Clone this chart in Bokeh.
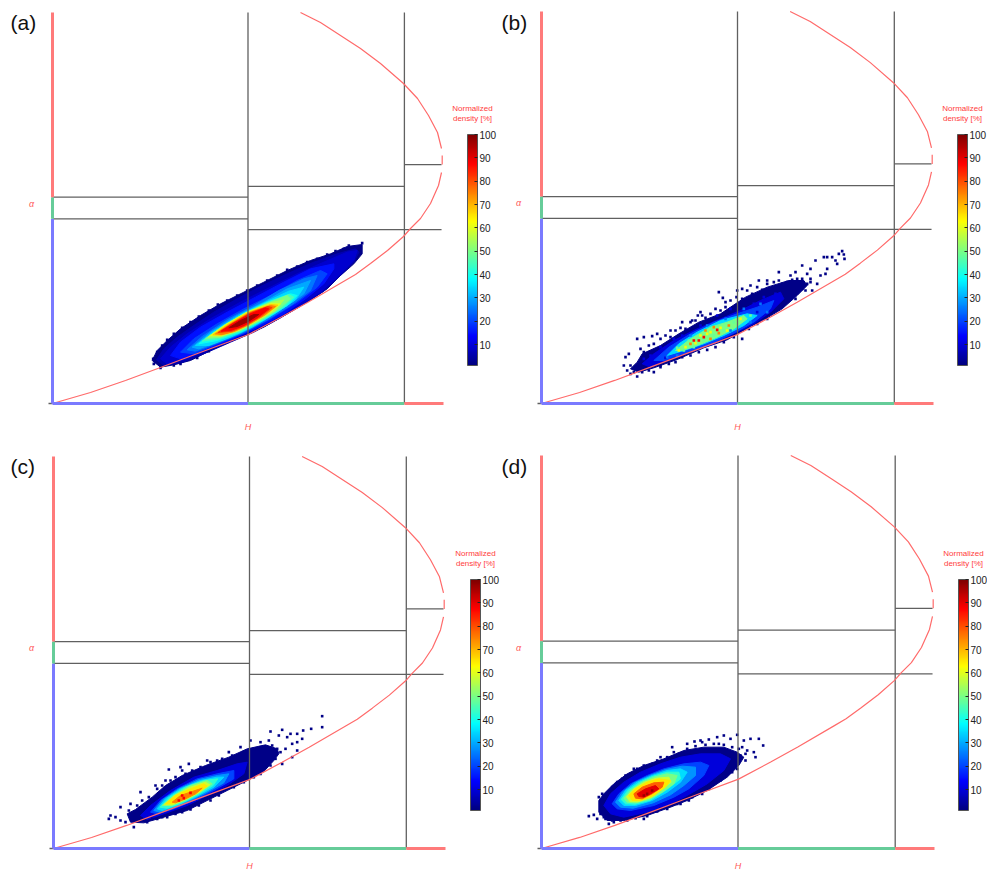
import numpy as np
from bokeh.plotting import figure
from bokeh.layouts import column, row
from bokeh.embed import file_html
from bokeh.resources import INLINE
from bokeh.models import (ColorBar, ColumnDataSource, FixedTicker, Label, LinearColorMapper, Range1d)
from bokeh.transform import transform

# ---------- class boundaries of the H / alpha plane ----------
H_ZONE = [0.5, 0.9]
ALPHA_LOW = [42.5, 47.5]          # H < 0.5
ALPHA_MID = [40.0, 50.0]          # 0.5 < H < 0.9
ALPHA_HIGH = [55.0]               # H > 0.9
ALPHA_TICK = 46.0
COLORBAR_TICKS = [10, 20, 30, 40, 50, 60, 70, 80, 90, 100]
PANELS = ["(a)", "(b)", "(c)", "(d)"]

# feasible-region curves, read as picture pixels of panel (a)
LOWER_X = [52, 90, 125, 160, 197, 248, 280, 307, 343, 355, 370, 387, 403, 410, 420, 430, 438, 441]
LOWER_Y = [403, 392, 380, 367, 353, 334, 317, 302, 281, 274, 263, 250, 236, 228, 218, 203, 185, 172]
UPPER_X = [300, 320, 340, 360, 380, 403, 417, 428, 437, 441]
UPPER_Y = [12, 22, 35, 48, 63, 83, 98, 115, 132, 148]
NOTCH_Y = [155, 164]

A_CROP = (130, 230)
A_LEVELS = [2, 6, 9, 15, 20, 25, 30, 35, 40, 45, 50, 55, 60, 68, 75, 82, 88, 97]
A_02 = [(65,390),(80,360),(110,330),(150,295),(210,255),(270,220),(340,185),(400,155),(470,120),(540,90),(600,70),(650,48),(695,42),(695,70),(670,100),(630,135),(590,175),(530,215),(470,250),(400,290),(330,320),(260,350),(180,390),(130,403),(90,410)]
A_06 = [(78,388),(100,355),(140,320),(190,285),(250,245),(320,205),(390,168),(470,130),(550,95),(620,70),(675,55),(685,65),(670,95),(625,140),(580,182),(515,224),(445,265),(370,305),(300,335),(220,370),(150,398),(100,405)]
A_09 = [(90,385),(120,350),(170,310),(240,265),(330,215),(410,175),(500,130),(580,95),(650,65),(680,60),(670,90),(620,140),(570,185),(500,230),(420,275),(340,312),(260,345),(170,385),(110,400)]
A_15 = [(120,375),(150,335),(210,290),(290,245),(375,200),(460,155),(540,115),(610,100),(610,115),(580,160),(525,205),(460,250),(380,292),(300,328),(220,360),(150,385)]
A_20 = [(150,365),(190,325),(260,280),(340,235),(420,195),(500,150),(570,120),(590,130),(560,170),(500,215),(420,265),(340,308),(260,340),(190,370)]
A_25 = [(170,358),(215,318),(290,268),(370,225),(445,180),(520,145),(560,135),(540,180),(485,222),(410,268),(335,308),(260,338),(195,362)]
A_30 = [(185,350),(240,305),(320,255),(400,215),(470,175),(540,150),(520,190),(470,225),(400,270),(330,308),(260,335),(205,355)]
A_35 = [(195,345),(250,302),(330,252),(405,215),(475,182),(520,170),(495,208),(435,248),(365,290),(300,320),(235,345)]
A_40 = [(205,340),(260,300),(340,250),(410,215),(480,190),(500,195),(470,225),(400,268),(330,305),(260,330)]
A_45 = [(215,332),(270,292),(345,247),(415,215),(475,192),(490,200),(458,230),(395,268),(330,302),(265,325)]
A_50 = [(225,325),(280,285),(350,245),(420,215),(470,195),(480,205),(445,235),(390,270),(330,300),(270,320)]
A_55 = [(232,320),(285,282),(350,245),(420,217),(460,208),(435,240),(380,272),(325,300),(270,318)]
A_60 = [(240,315),(290,280),(350,245),(420,220),(450,220),(420,245),(370,275),(320,300),(270,315)]
A_68 = [(247,313),(295,280),(355,245),(420,222),(442,224),(410,250),(360,280),(315,302),(272,314)]
A_75 = [(255,310),(300,280),(360,245),(420,225),(435,228),(400,255),(350,285),(310,303),(275,312)]
A_82 = [(263,306),(305,279),(360,247),(412,228),(425,231),(390,258),(345,285),(305,302)]
A_88 = [(272,302),(310,278),(360,250),(405,232),(415,235),(380,262),(340,285),(300,300)]
A_97 = [(295,292),(330,270),(370,252),(385,252),(355,272),(320,288)]
A_SPECK_NAVY = [(695,38),(690,48),(130,405),(70,400),(655,45),(640,55),(615,62),(590,72),(560,85),(530,95),(500,108),(470,118),(440,135),(410,150),(380,165),(350,180),(320,195),(290,210),(262,222),(235,240),(205,258),(180,275),(155,292),(130,310),(110,328),(95,345),(80,365),(68,385),(90,412),(150,400),(200,382),(235,362)]

B_CROP = (610, 240)
B_LEVELS = [2, 10, 20, 35, 50]
B_02 = [(60,385),(80,365),(95,340),(150,315),(205,280),(265,245),(330,220),(405,170),(470,140),(535,120),(580,120),(590,135),(560,165),(515,205),(470,232),(420,258),(350,298),(280,322),(200,357),(130,382),(85,395)]
B_10 = [(95,370),(130,340),(190,300),(260,265),(330,235),(390,210),(450,180),(510,155),(520,175),(480,215),(430,250),(380,275),(310,310),(240,335),(170,360),(120,380)]
B_20 = [(130,360),(175,320),(240,280),(310,245),(380,220),(440,200),(490,180),(480,205),(430,245),(370,278),(300,310),(230,335),(160,360)]
B_35 = [(170,345),(205,310),(260,275),(330,240),(410,220),(440,225),(400,255),(340,285),(280,310),(220,330)]
B_50 = [(195,330),(240,295),(300,260),(350,245),(400,225),(410,235),(370,265),(320,290),(260,315),(215,330)]
B_SPECK_NAVY = [(45,350),(55,340),(80,295),(100,290),(125,287),(140,280),(180,270),(215,245),(245,240),(270,215),(275,225),(325,155),(337,172),(345,185),(380,150),(395,145),(420,135),(445,120),(470,120),(505,95),(540,105),(555,95),(575,75),(600,85),(615,60),(640,50),(650,50),(665,50),(685,40),(695,32),(700,42),(702,55),(675,60),(680,70),(650,85),(645,100),(630,105),(620,130),(605,150),(590,100),(600,115),(40,375),(50,390),(80,408),(60,375),(70,395),(130,395),(150,380),
                (90,325),(100,335),(115,315),(130,310),(150,295),(165,285),(180,290),(195,270),(210,262),(225,265),(240,245),(255,240),(262,225),(285,232),(300,220),(315,205),(330,210),(345,200),(360,180),(378,170),(395,175),(410,150),(425,160),(440,140),(455,148),(470,130),(490,125),(505,120),(515,130),(530,125),(545,118),(560,115),(575,115),(590,130),(600,125),(575,145),(585,150),(560,155),(540,165),(555,175),(520,190),(500,205),
                (60,400),(75,385),(95,395),(115,390),(150,375),(175,370),(195,365),(215,350),(240,345),(265,335),(290,328),(315,320),(340,305),(370,290),(395,295),(415,265),(440,250),(470,235)]
B_SPECK_BLUE = [(100,355),(120,345),(150,320),(190,295),(215,285),(270,255),(320,225),(360,205),(430,190),(460,170),(495,160),(440,215),(165,352),(125,368)]
B_SPECK_AZURE = [(170,350),(200,345),(240,285),(290,255),(345,235),(400,205),(450,190),(470,215),(420,245),(360,270)]
B_SPECK_GREEN = [(220,330),(250,320),(280,300),(310,285),(340,270),(370,245),(420,225),(200,322),(235,300)]
B_SPECK_YELLOW = [(390,235),(350,270),(225,320),(205,330),(330,262),(290,280),(270,285),(300,275),(255,308)]
B_SPECK_ORANGE = [(310,260),(355,255),(240,310),(300,295),(285,270),(325,278)]
B_SPECK_RED = [(280,290),(265,300),(320,268),(250,300)]

C_CROP = (100, 705)
C_LEVELS = [2, 10, 20, 28, 35, 43, 50, 58, 65, 75]
C_02 = [(80,325),(105,312),(155,275),(195,240),(245,210),(315,180),(385,155),(440,130),(495,118),(530,130),(535,145),(520,165),(490,198),(440,225),(380,255),(320,285),(260,315),(190,335),(130,352),(90,350)]
C_10 = [(120,330),(150,300),(210,255),(280,215),(350,195),(410,175),(440,170),(430,205),(380,240),(320,270),(260,300),(190,325),(140,342)]
C_20 = [(150,320),(180,285),(230,250),(290,220),(350,205),(400,195),(400,220),(340,255),(280,285),(220,310),(170,325)]
C_28 = [(160,315),(187,282),(235,250),(295,222),(350,210),(385,205),(370,232),(312,265),(255,292),(200,313),(177,320)]
C_35 = [(170,310),(195,280),(240,250),(300,225),(350,215),(370,215),(340,245),(285,275),(230,300),(185,315)]
C_43 = [(178,305),(207,275),(255,245),(310,225),(352,220),(338,240),(292,268),(245,292),(200,308)]
C_50 = [(185,300),(220,270),(270,240),(320,225),(335,235),(300,260),(260,282),(215,300)]
C_58 = [(190,298),(222,270),(270,245),(315,230),(328,238),(295,261),(258,281),(215,298)]
C_65 = [(195,295),(225,270),(270,250),(310,235),(320,242),(290,262),(255,280),(215,295)]
C_75 = [(215,290),(240,270),(275,258),(305,248),(285,265),(255,280),(225,292)]
C_SPECK_NAVY = [(665,32),(632,70),(665,65),(608,75),(545,73),(510,78),(535,90),(560,95),(570,85),(590,85),(605,100),(590,110),(575,115),(590,135),(575,155),(545,175),(505,105),(480,110),(450,105),(420,125),(385,140),(350,165),(320,165),(265,175),(240,185),(245,195),(205,192),(195,225),(165,240),(120,260),(90,295),(60,305),(45,335),(25,340),(30,330),(60,345),(75,350),(100,365),(155,340),(185,335),(245,320),
                (85,315),(110,300),(125,285),(145,275),(170,250),(185,240),(210,225),(225,215),(255,205),(275,195),(300,185),(330,170),(350,175),(365,160),(395,150),(410,150),(430,140),(460,130),(480,125),(515,120),(530,130),(540,140),(555,130),(490,175),(510,180),(525,160),
                (110,345),(140,350),(170,340),(200,335),(225,325),(270,312),(295,300),(330,285),(355,270),(400,245),(430,230),(460,215),(480,205)]
C_SPECK_RED = [(235,285),(250,278),(270,262),(245,270)]

D_CROP = (580, 725)
D_LEVELS = [2, 10, 20, 28, 35, 43, 50, 58, 65, 78, 90]
D_02 = [(55,225),(70,205),(100,175),(140,145),(190,120),(250,100),(310,75),(370,65),(430,65),(470,80),(490,95),(475,120),(440,155),(380,195),(320,225),(270,245),(200,270),(130,285),(80,285),(55,260)]
D_10 = [(70,240),(90,205),(130,170),(180,140),(240,115),(300,95),(360,85),(420,85),(450,100),(430,135),(380,175),(320,210),(270,235),(200,260),(130,275),(90,265)]
D_20 = [(95,235),(115,205),(150,175),(200,150),(250,130),(310,115),(360,110),(385,120),(370,150),(325,190),(280,215),(220,240),(150,255),(110,250)]
D_28 = [(105,230),(125,200),(160,172),(207,150),(255,132),(305,122),(345,125),(345,150),(310,180),(270,208),(218,232),(158,248),(120,245)]
D_35 = [(115,225),(135,195),(170,170),(215,150),(260,135),(300,130),(320,140),(300,170),(260,200),(215,225),(165,240),(130,240)]
D_43 = [(122,222),(142,195),(178,170),(218,152),(260,140),(295,140),(300,160),(262,190),(210,224),(165,236),(135,235)]
D_50 = [(130,218),(150,195),(185,170),(220,155),(260,145),(290,150),(280,175),(245,200),(205,222),(165,232),(140,230)]
D_58 = [(138,214),(158,192),(192,170),(228,158),(265,155),(272,170),(238,195),(212,216),(172,229),(148,228)]
D_65 = [(145,210),(165,190),(200,170),(235,160),(270,165),(255,185),(220,210),(180,225),(155,225)]
D_78 = [(160,205),(185,185),(220,172),(250,170),(245,185),(215,205),(185,220),(165,218)]
D_90 = [(170,205),(195,190),(225,180),(235,190),(210,205),(190,215),(175,213)]
D_SPECK_NAVY = [(25,272),(40,268),(55,215),(85,295),(100,290),(75,280),(50,280),(65,205),(125,160),(160,130),(205,120),(240,95),(275,65),(280,80),(320,55),(342,48),(360,45),(385,42),(410,35),(430,30),(450,40),(470,28),(490,45),(510,40),(535,40),(548,60),(520,80),(525,95),(500,75),(485,65),(495,105),(470,110),(450,125),(430,150),(400,175),(350,205),(335,215),(290,235),(240,250),(190,280),(120,285),(415,55),(365,50),
                (60,235),(75,210),(95,185),(110,170),(135,150),(150,145),(170,130),(190,120),(215,115),(230,105),(260,95),(295,85),(320,70),(345,62),(375,58),(400,55),(430,58),(455,65),(475,70),(480,90),(495,85),(470,130),(455,140),(420,165),(405,170),(385,190),(365,205),
                (60,265),(70,275),(95,285),(110,280),(140,285),(165,278),(200,272),(230,258),(260,250),(300,235),(325,225)]
D_SPECK_RED = [(200,205),(215,195),(190,210)]

t = np.linspace(0, 1, 256)
def _c(a):
    return np.clip(1.5 - np.abs(4 * t - a), 0, 1)
JET = ["#%02x%02x%02x" % (int(r * 255), int(g * 255), int(b * 255)) for r, g, b in zip(_c(3), _c(2), _c(1))]
mapper = LinearColorMapper(palette=JET, low=1, high=100)

RED, GREEN, BLUE, GREY = "#ff7a7a", "#66cc99", "#7a7aff", "#606060"
FONT = "Liberation Sans"

def panel(name, ox, oy, S, xz, yz, w, h, crop, levels, polys, specks, cbx, cby, namex, alphax, namey):
    # the frame fills the whole cell except for the strip below alpha=0 that holds the H label
    fx0, fx1, fy0, fy1 = xz, xz + w, yz, oy + 3
    p = figure(width=w, height=h, output_backend="svg", toolbar_location=None,
               x_range=Range1d((fx0 - ox) / S, (fx1 - ox) / S),
               y_range=Range1d((oy - fy1) / S * 90, (oy - fy0) / S * 90),
               min_border_left=0, min_border_top=0, min_border_right=0,
               min_border_bottom=yz + h - fy1)
    p.grid.visible = False
    p.outline_line_color = None
    p.yaxis.visible = False

    def hx(px):
        return (np.asarray(px, float) - ox) / S
    def al(py):
        return (oy - np.asarray(py, float)) / S * 90
    def from_crop(pts):
        a = np.array(pts, float)
        return hx(crop[0] + a[:, 0] / 3), al(crop[1] + a[:, 1] / 3)

    xs, ys = zip(*[from_crop(q) for q in polys])
    src = ColumnDataSource(dict(xs=[list(v) for v in xs], ys=[list(v) for v in ys], level=levels))
    p.patches("xs", "ys", source=src, fill_color=transform("level", mapper), line_color=transform("level", mapper), line_width=1)
    for lev, pts in specks:
        sx, sy = from_crop(pts)
        p.scatter(sx, sy, marker="square", size=2.6, color=JET[int((lev - 1) / 99 * 255)], line_width=0)

    # zone boundaries
    p.segment(x0=[H_ZONE[0], H_ZONE[1]], y0=[0, 0], x1=[H_ZONE[0], H_ZONE[1]], y1=[90, 90], line_color=GREY, line_width=1.3)
    p.segment(x0=[0, 0, H_ZONE[0], H_ZONE[0], H_ZONE[1], float(hx(ox - 4))],
              x1=[H_ZONE[0], H_ZONE[0], 0.995, H_ZONE[1], 0.995, 0],
              y0=[ALPHA_LOW[0], ALPHA_LOW[1], ALPHA_MID[0], ALPHA_MID[1], ALPHA_HIGH[0], 0],
              y1=[ALPHA_LOW[0], ALPHA_LOW[1], ALPHA_MID[0], ALPHA_MID[1], ALPHA_HIGH[0], 0],
              line_color=GREY, line_width=1.3)
    # curves (calibrated on panel (a))
    cx = lambda v: (np.asarray(v, float) - 52) / 391
    cy = lambda v: (403 - np.asarray(v, float)) / 391 * 90
    p.line(cx(LOWER_X), cy(LOWER_Y), line_color="#ff6a6a", line_width=1.2)
    p.line(cx(UPPER_X), cy(UPPER_Y), line_color="#ff6a6a", line_width=1.2)
    p.line(cx([441.7, 441.7]), cy(NOTCH_Y), line_color="#ff6a6a", line_width=1.2)
    # coloured axes
    p.segment(x0=[0, 0, 0], x1=[0, 0, 0], y0=[0, ALPHA_LOW[0], ALPHA_LOW[1]], y1=[ALPHA_LOW[0], ALPHA_LOW[1], 90],
              line_color=[BLUE, GREEN, RED], line_width=3)
    p.segment(x0=[0, H_ZONE[0], H_ZONE[1]], x1=[H_ZONE[0], H_ZONE[1], 1], y0=[0, 0, 0], y1=[0, 0, 0],
              line_color=[BLUE, GREEN, RED], line_width=3)

    ax = p.xaxis[0]
    ax.ticker = FixedTicker(ticks=[H_ZONE[0]])
    ax.major_label_overrides = {H_ZONE[0]: "H"}
    ax.axis_line_color = None
    ax.major_tick_line_color = None
    ax.minor_tick_line_color = None
    ax.major_label_text_color = "#ff5a5a"
    ax.major_label_text_font = FONT
    ax.major_label_text_font_style = "italic"
    ax.major_label_text_font_size = "9px"
    ax.major_label_standoff = 9 if oy < 500 else 3

    p.add_layout(Label(x=float(hx(alphax)), y=ALPHA_TICK, text="α", text_font=FONT, text_font_style="italic",
                       text_font_size="9px", text_color="#ff5a5a", text_align="center", text_baseline="middle"))
    p.add_layout(Label(x=float(hx(namex)), y=float(al(namey)), text=name, text_font=FONT, text_font_size="21px",
                       text_color="#111111", text_baseline="middle"))

    cb = ColorBar(color_mapper=mapper, ticker=FixedTicker(ticks=COLORBAR_TICKS), width=10, height=231,
                  location=(cbx - fx0, fy1 - cby - 231), padding=0, margin=0, background_fill_alpha=0,
                  border_line_color=None, bar_line_color="#555555", label_standoff=2,
                  major_tick_line_color="#222222", major_tick_in=3, major_tick_out=0,
                  major_label_text_font=FONT, major_label_text_font_size="10px", major_label_text_color="#222222",
                  minor_tick_line_color=None)
    p.add_layout(cb)
    p.add_layout(Label(x=float(hx(cbx + 5)), y=float(al(cby - 21)), text="Normalized\ndensity [%]", text_font=FONT,
                       text_font_size="8px", text_color="#ff3c3c", text_align="center", text_baseline="middle"))
    return p

pa = panel(PANELS[0], 52, 403, 391, 0, 0, 500, 440, A_CROP, A_LEVELS,
           [A_02, A_06, A_09, A_15, A_20, A_25, A_30, A_35, A_40, A_45, A_50, A_55, A_60, A_68, A_75, A_82, A_88, A_97],
           [(2, A_SPECK_NAVY)], 467, 134, 10, 31, 22)
pb = panel(PANELS[1], 541, 403, 392, 500, 0, 487, 440, B_CROP, B_LEVELS,
           [B_02, B_10, B_20, B_35, B_50],
           [(2, B_SPECK_NAVY), (10, B_SPECK_BLUE), (25, B_SPECK_AZURE), (48, B_SPECK_GREEN), (62, B_SPECK_YELLOW), (75, B_SPECK_ORANGE), (88, B_SPECK_RED)], 957, 134, 501, 518, 22)
pc = panel(PANELS[2], 53, 848, 392, 0, 440, 500, 433, C_CROP, C_LEVELS,
           [C_02, C_10, C_20, C_28, C_35, C_43, C_50, C_58, C_65, C_75], [(2, C_SPECK_NAVY), (88, C_SPECK_RED)], 470, 579, 10, 31, 466)
pd_ = panel(PANELS[3], 541, 848, 393, 500, 440, 487, 433, D_CROP, D_LEVELS,
            [D_02, D_10, D_20, D_28, D_35, D_43, D_50, D_58, D_65, D_78, D_90], [(2, D_SPECK_NAVY), (97, D_SPECK_RED)], 958, 579, 501, 518, 466)

layout = column(row(pa, pb, spacing=0), row(pc, pd_, spacing=0), spacing=0)
open("out.html", "w").write(file_html(layout, INLINE))
